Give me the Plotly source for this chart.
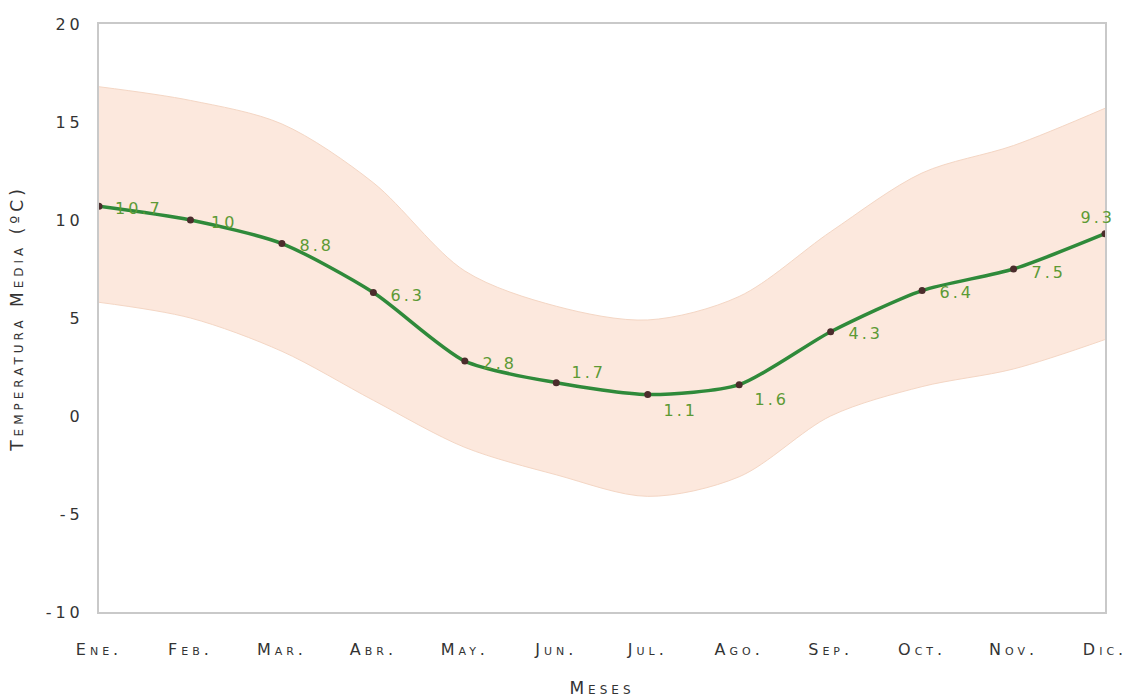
import plotly.graph_objects as go

# Monthly mean temperature with its min/max envelope
meses = ["Ene.", "Feb.", "Mar.", "Abr.", "May.", "Jun.",
         "Jul.", "Ago.", "Sep.", "Oct.", "Nov.", "Dic."]
temp_media = [10.7, 10, 8.8, 6.3, 2.8, 1.7, 1.1, 1.6, 4.3, 6.4, 7.5, 9.3]
temp_max = [16.8, 16.1, 14.9, 11.9, 7.4, 5.6, 4.9, 6.1, 9.4, 12.4, 13.8, 15.7]
temp_min = [5.8, 5.0, 3.3, 0.8, -1.6, -3.0, -4.1, -3.1, 0.0, 1.5, 2.4, 3.9]
y_ticks = [-10, -5, 0, 5, 10, 15, 20]
y_ticktext = ["-10", "-5", "0", "5", "10", "15", "20"]

# label offsets (pixels) for each value label
label_dx = [20, 22, 20, 20, 20, 18, 18, 18, 20, 20, 20, -24]
label_dy = [-2, -2, -2, -3, -2, 10, -16, -15, -2, -2, -3, 16]

FONT = "DejaVu Sans"
GREEN = "#2f8a3a"
LABEL_GREEN = "#5c9a35"
FRAME = "#c9c9c9"
TXT = "#333333"

x_idx = list(range(len(meses)))

fig = go.Figure()

# envelope band
fig.add_trace(go.Scatter(
    x=x_idx, y=temp_min, mode="lines",
    line=dict(color="#f4d6c4", width=1, shape="spline", smoothing=0.9),
    hoverinfo="skip", showlegend=False,
))
fig.add_trace(go.Scatter(
    x=x_idx, y=temp_max, mode="lines",
    line=dict(color="#f4d6c4", width=1, shape="spline", smoothing=0.9),
    fill="tonexty", fillcolor="#fce8dd",
    hoverinfo="skip", showlegend=False,
))

# mean temperature line
fig.add_trace(go.Scatter(
    x=x_idx, y=temp_media, mode="lines+markers",
    line=dict(color=GREEN, width=3.5, shape="spline", smoothing=0.7),
    marker=dict(color="#4b2c2c", size=7),
    showlegend=False,
))

for xi, v, dx, dy in zip(x_idx, temp_media, label_dx, label_dy):
    fig.add_annotation(
        x=xi, y=v, text=f"{v:g}", showarrow=False,
        xanchor="left" if dx > 0 else "center",
        xshift=dx if dx > 0 else -8, yshift=dy,
        font=dict(family=FONT, size=16, color=LABEL_GREEN),
    )

tick_font = dict(family=FONT, size=16, color=TXT, variant="small-caps")
title_font = dict(family=FONT, size=17, color=TXT, variant="small-caps")

fig.update_layout(
    width=1132, height=698,
    margin=dict(l=99, r=27, t=24, b=86),
    paper_bgcolor="white", plot_bgcolor="white",
    font=dict(family=FONT, color=TXT, variant="small-caps"),
    xaxis=dict(
        range=[0, 11], tickvals=x_idx, ticktext=meses,
        showgrid=False, zeroline=False, automargin=False,
        showline=True, linecolor=FRAME, linewidth=2, mirror=True,
        ticks="", ticklabelstandoff=22,
        tickfont=tick_font,
        title=dict(text="Meses", standoff=26, font=title_font),
    ),
    yaxis=dict(
        range=[-10, 20], tickvals=y_ticks, ticktext=y_ticktext,
        showgrid=False, zeroline=False, automargin=False,
        showline=True, linecolor=FRAME, linewidth=2, mirror=True,
        ticks="", ticklabelstandoff=10,
        tickfont=tick_font,
        title=dict(text="Temperatura Media (ºC)", standoff=30, font=title_font),
    ),
)

# widen the lettering of axis and value labels
spacing_js = """
var gd = document.getElementById('{plot_id}');
function sp(sel, px) {
  gd.querySelectorAll(sel).forEach(function (t) { t.style.letterSpacing = px; });
}
sp('.xtick text', '4px');
sp('.ytick text', '4px');
sp('.g-xtitle text', '4px');
sp('.g-ytitle text', '4px');
sp('.annotation-text', '3px');
"""

fig.write_html("out.html", post_script=spacing_js)
